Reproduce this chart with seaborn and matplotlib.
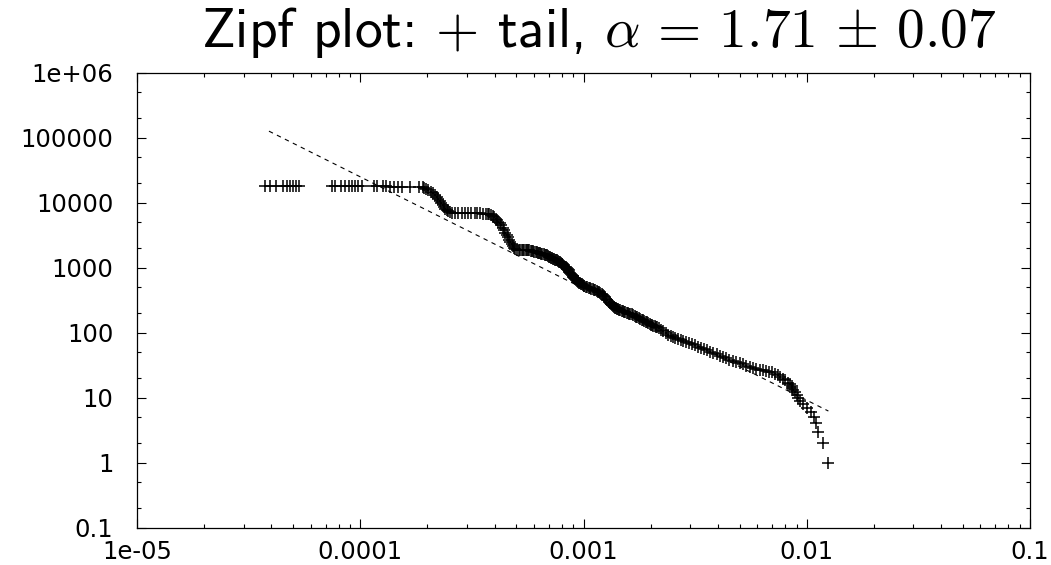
import numpy as np
import pandas as pd
import matplotlib
matplotlib.use("Agg")
import matplotlib.pyplot as plt
import seaborn as sns
from matplotlib.ticker import LogLocator, FixedLocator, FixedFormatter, NullFormatter

# ---------------- data ----------------
x_vals = [
    # left isolated cluster
    3.74e-5, 3.94e-5, 4.19e-5, 4.51e-5, 4.70e-5, 4.85e-5, 5.00e-5, 5.16e-5, 5.32e-5,
    # first plateau
    7.47e-5, 7.71e-5, 8.20e-5, 8.55e-5, 8.90e-5, 9.18e-5, 9.47e-5, 9.77e-5, 1.018e-4,
    1.152e-4, 1.188e-4, 1.264e-4, 1.304e-4, 1.359e-4, 1.416e-4, 1.476e-4, 1.538e-4,
    1.671e-4, 1.833e-4, 1.91e-4,
    # first drop
    1.93e-4, 1.97e-4, 2.02e-4, 2.07e-4, 2.12e-4, 2.16e-4, 2.20e-4, 2.24e-4, 2.28e-4,
    2.31e-4, 2.34e-4, 2.37e-4, 2.40e-4, 2.44e-4, 2.48e-4, 2.52e-4,
    # second plateau
    2.58e-4, 2.65e-4, 2.75e-4, 2.85e-4, 2.95e-4, 3.05e-4, 3.15e-4, 3.25e-4, 3.35e-4,
    3.45e-4, 3.55e-4, 3.65e-4, 3.72e-4,
    # second drop
    3.78e-4, 3.85e-4, 3.92e-4, 3.98e-4, 4.04e-4, 4.10e-4, 4.16e-4, 4.22e-4, 4.28e-4,
    4.34e-4, 4.40e-4, 4.46e-4, 4.52e-4, 4.58e-4, 4.64e-4, 4.70e-4, 4.76e-4, 4.82e-4,
    4.88e-4, 4.95e-4, 5.02e-4,
    # third plateau
    5.20e-4, 5.36e-4, 5.50e-4, 5.65e-4, 5.80e-4, 5.95e-4, 6.10e-4, 6.25e-4, 6.40e-4,
    6.55e-4, 6.70e-4, 6.85e-4, 7.00e-4, 7.15e-4, 7.30e-4, 7.45e-4, 7.60e-4,
    # third drop
    7.75e-4, 7.90e-4, 8.05e-4, 8.20e-4, 8.35e-4, 8.50e-4, 8.65e-4, 8.80e-4, 8.95e-4,
    9.10e-4, 9.25e-4, 9.40e-4, 9.55e-4, 9.70e-4, 9.90e-4, 1.01e-3, 1.04e-3, 1.07e-3,
    1.10e-3, 1.13e-3, 1.16e-3, 1.19e-3,
    # middle section
    1.22e-3, 1.25e-3, 1.28e-3, 1.31e-3, 1.34e-3, 1.37e-3, 1.40e-3, 1.43e-3, 1.46e-3,
    1.50e-3, 1.54e-3, 1.58e-3, 1.62e-3, 1.67e-3, 1.72e-3, 1.77e-3, 1.82e-3, 1.87e-3,
    1.93e-3, 1.98e-3, 2.03e-3, 2.08e-3, 2.13e-3,
    # lower section
    2.18e-3, 2.23e-3, 2.28e-3, 2.34e-3, 2.40e-3, 2.46e-3, 2.52e-3, 2.58e-3, 2.65e-3,
    2.72e-3, 2.80e-3, 2.88e-3, 2.96e-3, 3.05e-3, 3.15e-3, 3.25e-3, 3.35e-3, 3.45e-3,
    3.57e-3, 3.70e-3, 3.82e-3, 3.95e-3, 4.08e-3, 4.22e-3, 4.36e-3, 4.50e-3, 4.65e-3,
    4.82e-3, 5.00e-3, 5.18e-3, 5.37e-3, 5.55e-3, 5.74e-3, 5.95e-3, 6.15e-3, 6.37e-3,
    6.60e-3, 6.80e-3, 6.98e-3, 7.20e-3, 7.40e-3, 7.59e-3, 7.80e-3, 8.00e-3, 8.24e-3,
    8.40e-3, 8.55e-3,
    # tail (top ranks)
    8.60e-3, 8.70e-3, 8.90e-3, 9.00e-3, 9.10e-3, 9.30e-3, 9.60e-3, 1.00e-2, 1.05e-2,
    1.08e-2, 1.10e-2, 1.12e-2, 1.18e-2, 1.25e-2,
]
y_vals = [
    18000, 18000, 18000, 18000, 18000, 18000, 18000, 18000, 18000,
    18000, 18000, 17950, 17950, 17900, 17900, 17900, 17850, 17850,
    17800, 17800, 17750, 17750, 17700, 17700, 17650, 17650,
    17600, 17500, 17300,
    17000, 16300, 15500, 14700, 14000, 13000, 12000, 11300, 10600,
    9900, 9200, 8600, 8100, 7700, 7400, 7150,
    7050, 7000, 6980, 6950, 6930, 6900, 6880, 6860, 6840,
    6820, 6800, 6750, 6700,
    6600, 6450, 6250, 6000, 5700, 5400, 5100, 4800, 4450,
    4100, 3750, 3450, 3200, 2950, 2700, 2480, 2280, 2120,
    2000, 1920, 1880,
    1900, 1900, 1880, 1850, 1820, 1780, 1740, 1700, 1660,
    1620, 1580, 1540, 1480, 1420, 1370, 1330, 1290,
    1240, 1180, 1120, 1070, 1010, 940, 870, 800, 740,
    690, 650, 615, 585, 565, 540, 520, 500, 484,
    465, 445, 425, 405,
    380, 350, 315, 285, 262, 245, 235, 228, 222,
    214, 206, 199, 193, 186, 176, 166, 158, 151,
    145, 137, 130, 125, 121,
    116, 110, 104, 98, 93, 89, 85, 82, 79,
    76, 74, 71, 69, 67, 64, 61, 58, 56,
    54, 51, 49, 46, 44, 42, 40, 38.5, 37,
    35.5, 34, 33, 31, 30, 28.5, 28, 27, 26.5,
    26, 25, 24.5, 23, 22, 21, 19.5, 18.5, 17,
    16, 15,
    14, 13, 12, 11, 10, 9, 8, 7, 6,
    5, 4, 3, 2, 1,
]
# extra points where the reference markers pile up into a solid band
dense_x = [
    5.12e-4, 5.28e-4, 5.43e-4, 5.58e-4, 5.72e-4, 5.88e-4, 6.02e-4, 6.18e-4, 6.32e-4,
    6.48e-4, 6.62e-4, 6.78e-4, 6.92e-4, 7.08e-4, 7.22e-4, 7.38e-4, 7.52e-4, 7.68e-4,
    7.82e-4, 7.98e-4, 8.12e-4, 8.28e-4, 8.42e-4, 8.58e-4, 8.72e-4, 8.88e-4, 9.02e-4,
    9.18e-4, 9.32e-4, 9.48e-4, 9.62e-4, 9.80e-4, 1.000e-3, 1.025e-3, 1.055e-3, 1.085e-3,
    1.115e-3, 1.145e-3, 1.175e-3,
    1.205e-3, 1.235e-3, 1.265e-3, 1.295e-3, 1.325e-3, 1.355e-3, 1.385e-3, 1.415e-3,
    1.445e-3, 1.48e-3, 1.52e-3, 1.56e-3, 1.60e-3, 1.645e-3, 1.695e-3, 1.745e-3,
    1.795e-3, 1.845e-3, 1.90e-3, 1.955e-3, 2.005e-3, 2.055e-3, 2.105e-3,
]
dense_y = [
    1890, 1900, 1890, 1865, 1835, 1800, 1760, 1720, 1680,
    1640, 1600, 1560, 1510, 1450, 1395, 1350, 1310, 1265,
    1210, 1150, 1095, 1040, 975, 905, 835, 770, 715,
    670, 632, 600, 575, 552, 530, 510, 492, 474,
    455, 435, 415,
    392, 365, 332, 300, 273, 253, 240, 231,
    225, 218, 210, 202, 196, 190, 181, 171,
    162, 154, 148, 141, 133, 127, 123,
]
fit_x = [3.9e-5, 0.0125]
fit_y = [126000, 6.2]

x_ticks = [1e-5, 1e-4, 1e-3, 1e-2, 1e-1]
x_tick_labels = ["1e-05", "0.0001", "0.001", "0.01", "0.1"]
y_ticks = [0.1, 1, 10, 100, 1000, 10000, 100000, 1e6]
y_tick_labels = ["0.1", "1", "10", "100", "1000", "10000", "100000", "1e+06"]
title_text = r"Zipf plot: $+$ tail, $\alpha\,=\,1.71\,\pm\,0.07$"

# ---------------- style ----------------
sns.set_theme(style="ticks")
plt.rcParams["font.family"] = ["DejaVu Sans"]
plt.rcParams["mathtext.fontset"] = "cm"

W, H = 1051, 565
fig = plt.figure(figsize=(W / 100, H / 100), dpi=100)
fig.patch.set_facecolor("white")
left, right, top, bottom = 137, 1030, 72.7, 527.5
ax = fig.add_axes([left / W, 1 - bottom / H, (right - left) / W, (bottom - top) / H])
ax.set_facecolor("white")
ax.set_xscale("log")
ax.set_yscale("log")

df = pd.DataFrame({"x": x_vals + dense_x, "y": y_vals + dense_y})
fit_df = pd.DataFrame({"x": fit_x, "y": fit_y})

sns.lineplot(data=fit_df, x="x", y="y", color="black", lw=0.8, dashes=False,
             linestyle=(0, (4, 4)), ax=ax, zorder=2, sort=False)
sns.scatterplot(data=df, x="x", y="y", marker="+", color="black", s=64,
                linewidth=1.1, ax=ax, zorder=3, legend=False)

ax.set_xlim(1e-5, 0.1)
ax.set_ylim(0.1, 1e6)
ax.set_xlabel("")
ax.set_ylabel("")

ax.xaxis.set_major_locator(FixedLocator(x_ticks))
ax.xaxis.set_major_formatter(FixedFormatter(x_tick_labels))
ax.yaxis.set_major_locator(FixedLocator(y_ticks))
ax.yaxis.set_major_formatter(FixedFormatter(y_tick_labels))
ax.xaxis.set_minor_locator(LogLocator(base=10, subs=np.arange(2, 10), numticks=30))
ax.yaxis.set_minor_locator(LogLocator(base=10, subs=(2, 5), numticks=30))
ax.xaxis.set_minor_formatter(NullFormatter())
ax.yaxis.set_minor_formatter(NullFormatter())

ax.tick_params(which="both", direction="in", top=True, right=True, color="black", width=0.8)
ax.tick_params(which="major", length=6.5)
ax.tick_params(which="minor", length=3.2)
ax.tick_params(axis="y", which="major", labelsize=17.5, pad=17, labelcolor="black")
ax.tick_params(axis="x", which="major", labelsize=17.5, pad=9, labelcolor="black")

for sp in ax.spines.values():
    sp.set_visible(True)
    sp.set_color("black")
    sp.set_linewidth(0.9)

fig.text(599 / W, 1 - 47 / H, title_text, ha="center", va="baseline", fontsize=40,
         color="black", family="cmss10")

fig.savefig("out.png", dpi=100, facecolor="white")
